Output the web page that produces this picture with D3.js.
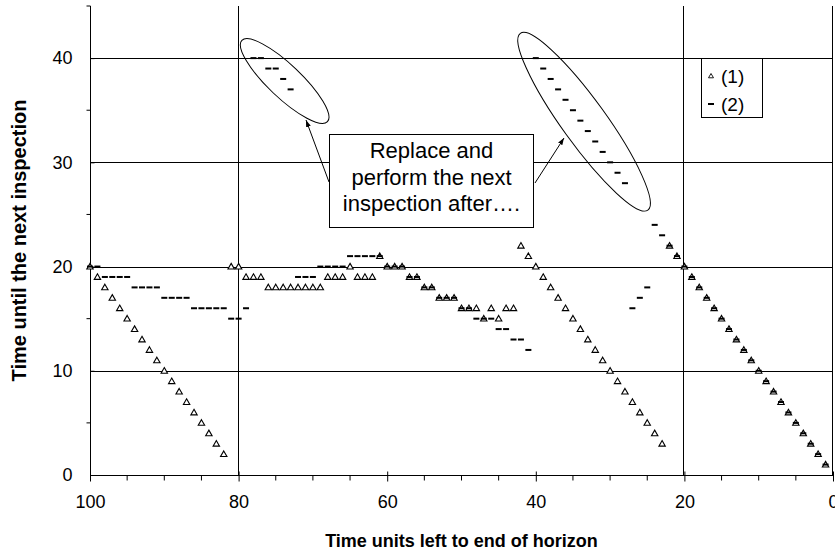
<!DOCTYPE html>
<html>
<head>
<meta charset="utf-8">
<script src="https://cdn.jsdelivr.net/npm/d3@7"></script>
<style>
body { margin: 0; background: #fff; }
text { font-family: Arial, "Liberation Sans", sans-serif; fill: #000; }
</style>
</head>
<body>
<div id="chart"></div>
<script>
// time units left (x) and the two policies (y)
const timeLeft = [
    100, 99, 98, 97, 96, 95, 94, 93, 92, 91, 90, 89, 88, 87, 86, 85, 84, 83, 82, 81,
    80, 79, 78, 77, 76, 75, 74, 73, 72, 71, 70, 69, 68, 67, 66, 65, 64, 63, 62, 61,
    60, 59, 58, 57, 56, 55, 54, 53, 52, 51, 50, 49, 48, 47, 46, 45, 44, 43, 42, 41,
    40, 39, 38, 37, 36, 35, 34, 33, 32, 31, 30, 29, 28, 27, 26, 25, 24, 23, 22, 21,
    20, 19, 18, 17, 16, 15, 14, 13, 12, 11, 10, 9, 8, 7, 6, 5, 4, 3, 2, 1
];
const series1 = [
    20, 19, 18, 17, 16, 15, 14, 13, 12, 11, 10, 9, 8, 7, 6, 5, 4, 3, 2, 20,
    20, 19, 19, 19, 18, 18, 18, 18, 18, 18, 18, 18, 19, 19, 19, 20, 19, 19, 19, 21,
    20, 20, 20, 19, 19, 18, 18, 17, 17, 17, 16, 16, 16, 15, 16, 15, 16, 16, 22, 21,
    20, 19, 18, 17, 16, 15, 14, 13, 12, 11, 10, 9, 8, 7, 6, 5, 4, 3, 22, 21,
    20, 19, 18, 17, 16, 15, 14, 13, 12, 11, 10, 9, 8, 7, 6, 5, 4, 3, 2, 1
];
const series2 = [
    20, 20, 19, 19, 19, 19, 18, 18, 18, 18, 17, 17, 17, 17, 16, 16, 16, 16, 16, 15,
    15, 16, 40, 40, 39, 39, 38, 37, 19, 19, 19, 20, 20, 20, 20, 21, 21, 21, 21, 21,
    20, 20, 20, 19, 19, 18, 18, 17, 17, 17, 16, 16, 15, 15, 15, 14, 14, 13, 13, 12,
    40, 39, 38, 37, 36, 35, 34, 33, 32, 31, 30, 29, 28, 16, 17, 18, 24, 23, 22, 21,
    20, 19, 18, 17, 16, 15, 14, 13, 12, 11, 10, 9, 8, 7, 6, 5, 4, 3, 2, 1
];
const xTicks = [100, 80, 60, 40, 20, 0];
const xMinor = [95, 90, 85, 75, 70, 65, 55, 50, 45, 35, 30, 25, 15, 10, 5];
const yTicks = [0, 10, 20, 30, 40];
const yMinor = [5, 15, 25, 35, 45];
const xGrid = [80, 20, 0];
const yGrid = [10, 20, 30, 40];
const legendLabels = ["(1)", "(2)"];
const noteLines = ["Replace and", "perform the next", "inspection after…."];

const width = 835, height = 559;
const margin = { top: 6, right: 2, bottom: 84, left: 90 };

const svg = d3.select("#chart")
    .append("svg")
    .attr("width", width)
    .attr("height", height);

const x = d3.scaleLinear().domain([100, 0]).range([margin.left, width - margin.right]);
const y = d3.scaleLinear().domain([0, 45]).range([height - margin.bottom, margin.top]);

// grid
svg.append("g").selectAll("line")
    .data(yGrid)
    .enter().append("line")
    .attr("x1", x(100)).attr("x2", x(0))
    .attr("y1", d => Math.round(y(d)) + 0.5).attr("y2", d => Math.round(y(d)) + 0.5)
    .attr("stroke", "#000");

svg.append("g").selectAll("line")
    .data(xGrid)
    .enter().append("line")
    .attr("x1", d => Math.round(x(d)) - 0.5).attr("x2", d => Math.round(x(d)) - 0.5)
    .attr("y1", y(45)).attr("y2", y(0))
    .attr("stroke", "#000");

// axes
const xAxis = svg.append("g")
    .attr("transform", `translate(0,${Math.round(y(0)) + 0.5})`)
    .call(d3.axisBottom(x).tickValues(xTicks).tickSize(6).tickPadding(14));
xAxis.select(".domain").remove();
xAxis.append("line").attr("x1", x(100)).attr("x2", x(0)).attr("stroke", "#000");
xAxis.selectAll(".tick line").attr("y1", -4);
xAxis.selectAll(".tick text").attr("font-size", 18).attr("font-family", "Arial, 'Liberation Sans', sans-serif");
xAxis.selectAll(".minor")
    .data(xMinor)
    .enter().append("line")
    .attr("x1", d => x(d)).attr("x2", d => x(d))
    .attr("y1", 0).attr("y2", 5)
    .attr("stroke", "#000");

const yAxis = svg.append("g")
    .attr("transform", `translate(${Math.round(x(100)) + 0.5},0)`)
    .call(d3.axisLeft(y).tickValues(yTicks).tickSize(4).tickPadding(14));
yAxis.select(".domain").remove();
yAxis.append("line").attr("y1", y(0)).attr("y2", y(45)).attr("stroke", "#000");
yAxis.selectAll(".tick line").attr("x2", 4);
yAxis.selectAll(".tick text").attr("font-size", 18).attr("font-family", "Arial, 'Liberation Sans', sans-serif");
yAxis.selectAll(".minor")
    .data(yMinor)
    .enter().append("line")
    .attr("x1", -4).attr("x2", 0)
    .attr("y1", d => y(d)).attr("y2", d => y(d))
    .attr("stroke", "#000");

// axis titles
svg.append("text")
    .attr("x", (x(100) + x(0)) / 2)
    .attr("y", 547)
    .attr("text-anchor", "middle")
    .attr("font-size", 18)
    .attr("font-weight", "bold")
    .text("Time units left to end of horizon");

svg.append("text")
    .attr("transform", `translate(26,${y(22.5)}) rotate(-90)`)
    .attr("text-anchor", "middle")
    .attr("font-size", 20)
    .attr("font-weight", "bold")
    .text("Time until the next inspection");

// markers
const triangle = "M0,-3.2L3.2,2.4L-3.2,2.4Z";

svg.append("g").selectAll("path")
    .data(timeLeft)
    .enter().append("path")
    .attr("d", triangle)
    .attr("transform", (d, i) => `translate(${x(d)},${y(series1[i])})`)
    .attr("fill", "#fff")
    .attr("stroke", "#000")
    .attr("stroke-width", 1.1);

svg.append("g").selectAll("rect")
    .data(timeLeft)
    .enter().append("rect")
    .attr("x", d => x(d) - 3)
    .attr("y", (d, i) => y(series2[i]) - 1)
    .attr("width", 6)
    .attr("height", 2)
    .attr("fill", "#000");

// annotation: ellipses, callout box, arrows
svg.append("defs").append("marker")
    .attr("id", "arrow")
    .attr("viewBox", "0 0 10 10")
    .attr("refX", 10).attr("refY", 5)
    .attr("markerWidth", 7).attr("markerHeight", 7)
    .attr("orient", "auto")
    .append("path")
    .attr("d", "M0,1.5L10,5L0,8.5Z")
    .attr("fill", "#000");

svg.append("ellipse")
    .attr("transform", `translate(${x(73.8)},${y(37.8)}) rotate(43.5)`)
    .attr("rx", 59).attr("ry", 16.5)
    .attr("fill", "none").attr("stroke", "#000");

svg.append("ellipse")
    .attr("transform", `translate(${x(33.5)},${y(33.9)}) rotate(54.2)`)
    .attr("rx", 109).attr("ry", 22)
    .attr("fill", "none").attr("stroke", "#000");

svg.append("line")
    .attr("x1", 329).attr("y1", 182).attr("x2", 306).attr("y2", 120)
    .attr("stroke", "#000").attr("marker-end", "url(#arrow)");
svg.append("line")
    .attr("x1", 535).attr("y1", 183).attr("x2", 564).attr("y2", 138)
    .attr("stroke", "#000").attr("marker-end", "url(#arrow)");

svg.append("rect")
    .attr("x", 329.5).attr("y", 134.5)
    .attr("width", 204).attr("height", 93)
    .attr("fill", "#fff").attr("stroke", "#000");

svg.append("g").selectAll("text")
    .data(noteLines)
    .enter().append("text")
    .attr("x", 431.5)
    .attr("y", (d, i) => 158 + i * 26.5)
    .attr("text-anchor", "middle")
    .attr("font-size", 22)
    .text(d => d);

// legend
const legend = svg.append("g").attr("transform", "translate(701,58)");
legend.append("rect")
    .attr("x", 0.5).attr("y", 0.5)
    .attr("width", 61).attr("height", 59)
    .attr("fill", "#fff").attr("stroke", "#000");

const items = legend.selectAll(".item")
    .data(legendLabels)
    .enter().append("g")
    .attr("transform", (d, i) => `translate(0,${18 + i * 28})`);

items.filter((d, i) => i === 0).append("path")
    .attr("d", "M0,-2.5L2.5,1.8L-2.5,1.8Z")
    .attr("transform", "translate(10,0)")
    .attr("fill", "#fff").attr("stroke", "#000").attr("stroke-width", 0.9);
items.filter((d, i) => i === 1).append("rect")
    .attr("x", 7).attr("y", -1).attr("width", 6).attr("height", 2)
    .attr("fill", "#000");

items.append("text")
    .attr("x", 20)
    .attr("y", 7)
    .attr("font-size", 19)
    .text(d => d);
</script>
</body>
</html>
